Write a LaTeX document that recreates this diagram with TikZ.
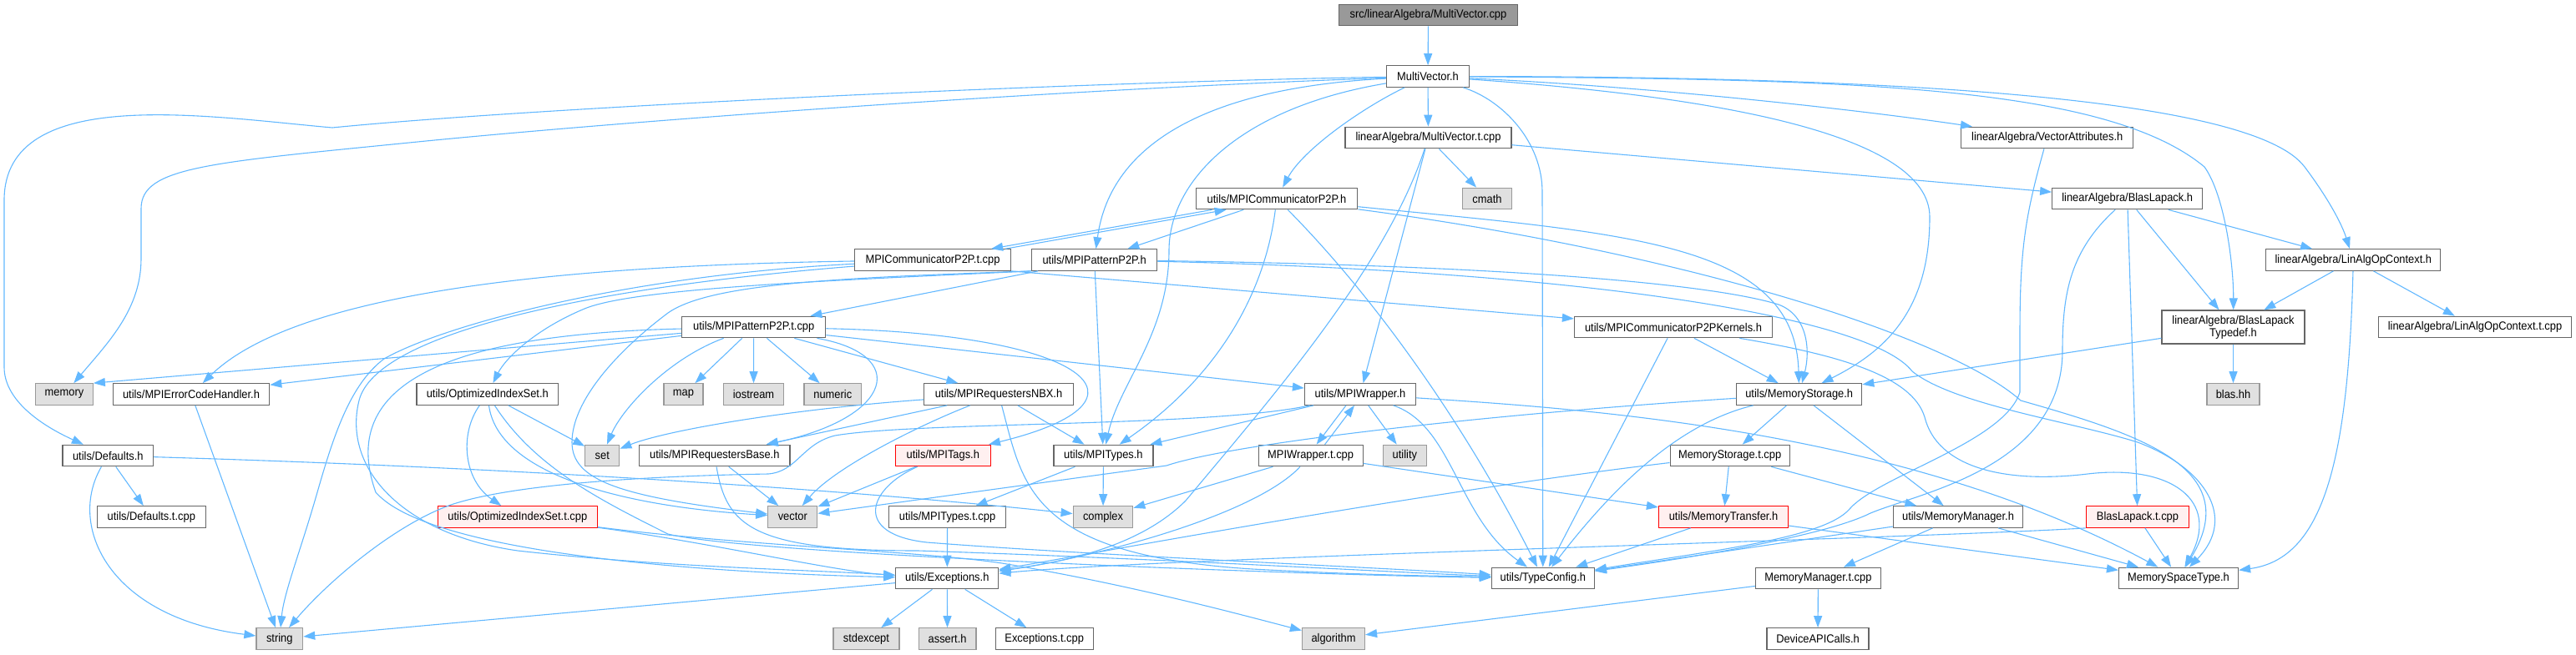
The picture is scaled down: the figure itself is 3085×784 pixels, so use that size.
\documentclass[tikz,border=0pt]{standalone}
\usepackage{fontspec}
\setmainfont{Liberation Sans}[FakeStretch=0.92]
\usetikzlibrary{arrows.meta,calc}
\definecolor{edgec}{RGB}{99,184,255}
\definecolor{bordc}{RGB}{102,102,102}
\definecolor{sysfill}{RGB}{224,224,224}
\definecolor{sysbord}{RGB}{153,153,153}
\definecolor{redfill}{RGB}{255,240,240}
\definecolor{srcfill}{RGB}{153,153,153}
\begin{document}
\begin{tikzpicture}[x=0.5pt,y=-0.5pt,
  nd/.style={draw=bordc, fill=white, line width=0.6pt, minimum height=12.75pt, inner sep=0pt, font=\fontsize{7}{7.6}\selectfont, text=black},
  sys/.style={nd, draw=sysbord, fill=sysfill},
  hot/.style={nd, draw=red, fill=redfill},
  srcnode/.style={nd, fill=srcfill},
  wd/.style={minimum width=#1*0.5pt},
  lnk/.style={draw=edgec, line width=0.55pt, -{Triangle[length=7pt,width=5pt]}}
]
\useasboundingbox (0,0) rectangle (3085,784);

% rows 0-5
\node[srcnode,wd=214] (src) at (1710.5,18) {src/linearAlgebra/MultiVector.cpp};
\node[nd,wd=99] (MV) at (1710,91.5) {MultiVector.h};
\node[nd,wd=199] (MVt) at (1710.5,165) {linearAlgebra/MultiVector.t.cpp};
\node[nd,wd=206] (VecAttr) at (2451.7,165) {linearAlgebra/VectorAttributes.h};
\node[sys,wd=59] (cmath) at (1781,238) {cmath};
\node[nd,wd=193.5] (MPICommH) at (1529,238) {utils/MPICommunicatorP2P.h};
\node[nd,wd=180] (BlasLapack) at (2547.7,238) {linearAlgebra/BlasLapack.h};
\node[nd,wd=187] (MPICommT) at (1117,311.5) {MPICommunicatorP2P.t.cpp};
\node[nd,wd=150] (MPIPatH) at (1310.7,311.5) {utils/MPIPatternP2P.h};
\node[nd,wd=209] (LinAlgCtx) at (2818.3,311.5) {linearAlgebra/LinAlgOpContext.h};
\node[nd,wd=172] (MPIPatT) at (902.7,392) {utils/MPIPatternP2P.t.cpp};
\node[nd,wd=237] (Kernels) at (2004,392) {utils/MPICommunicatorP2PKernels.h};
\node[nd,wd=171,minimum height=20pt,align=center] (BLTypedef) at (2674.5,392) {linearAlgebra/BlasLapack\\Typedef.h};
\node[nd,wd=231.5] (LinAlgCtxT) at (2964,392) {linearAlgebra/LinAlgOpContext.t.cpp};
% row 6
\node[sys,wd=68.6] (memory) at (77,472.5) {memory};
\node[nd,wd=187.5] (MPIErrH) at (229,472.5) {utils/MPIErrorCodeHandler.h};
\node[nd,wd=169.6] (OptIdxH) at (583.8,472.5) {utils/OptimizedIndexSet.h};
\node[sys,wd=47] (map) at (818.4,472.5) {map};
\node[sys,wd=72] (iostream) at (902.5,472.5) {iostream};
\node[sys,wd=68.6] (numeric) at (997.3,472.5) {numeric};
\node[nd,wd=178.6] (NBX) at (1196,472.5) {utils/MPIRequestersNBX.h};
\node[nd,wd=133] (MPIWrapper) at (1629,472.5) {utils/MPIWrapper.h};
\node[nd,wd=150] (MemStorage) at (2154.7,472.5) {utils/MemoryStorage.h};
\node[sys,wd=63] (blas) at (2674.5,472.5) {blas.hh};
% row 7
\node[nd,wd=108.5] (Defaults) at (129.3,546) {utils/Defaults.h};
\node[sys,wd=41] (set) at (721.3,546) {set};
\node[nd,wd=180.5] (ReqBase) at (855.8,546) {utils/MPIRequestersBase.h};
\node[hot,wd=114] (MPITags) at (1129.3,546) {utils/MPITags.h};
\node[nd,wd=119] (MPITypes) at (1321.4,546) {utils/MPITypes.h};
\node[nd,wd=125] (MPIWrapperT) at (1569.6,546) {MPIWrapper.t.cpp};
\node[sys,wd=52] (utility) at (1682.4,546) {utility};
\node[nd,wd=143] (MemStorageT) at (2071.6,546) {MemoryStorage.t.cpp};
% row 8
\node[nd,wd=130] (DefaultsT) at (181.3,619.5) {utils/Defaults.t.cpp};
\node[hot,wd=191] (OptIdxT) at (619.8,619.5) {utils/OptimizedIndexSet.t.cpp};
\node[sys,wd=59] (vector) at (949.3,619.5) {vector};
\node[nd,wd=140] (MPITypesT) at (1134.6,619.5) {utils/MPITypes.t.cpp};
\node[sys,wd=71.6] (complex) at (1321,619.5) {complex};
\node[hot,wd=155] (MemTransfer) at (2064,619.5) {utils/MemoryTransfer.h};
\node[nd,wd=155] (MemManager) at (2345,619.5) {utils/MemoryManager.h};
\node[hot,wd=123] (BlasLapackT) at (2560,619.5) {BlasLapack.t.cpp};
% row 9
\node[nd,wd=123] (Exceptions) at (1134.3,693) {utils/Exceptions.h};
\node[nd,wd=123] (TC) at (1847.8,693) {utils/TypeConfig.h};
\node[nd,wd=150] (MemManagerT) at (2177.4,693) {MemoryManager.t.cpp};
\node[nd,wd=143] (MemSpace) at (2609,693) {MemorySpaceType.h};
% row 10
\node[sys,wd=55.7] (string) at (334.8,765.5) {string};
\node[sys,wd=79] (stdexcept) at (1037.4,765.5) {stdexcept};
\node[sys,wd=68.6] (assert) at (1134.6,765.5) {assert.h};
\node[nd,wd=117] (ExceptionsT) at (1250.7,765.5) {Exceptions.t.cpp};
\node[sys,wd=75] (algorithm) at (1597,765.5) {algorithm};
\node[nd,wd=122] (DeviceAPI) at (2177,765.5) {DeviceAPICalls.h};

% ---- edges ----
\draw[lnk] (src) -- (MV);
\draw[lnk] (MV) -- (MVt);
\draw[lnk] (MVt) -- (cmath);
\draw[lnk] (MV) .. controls (1300,98) and (650,128) .. (398,153) .. controls (250,140) and (5,100) .. (5,240) -- (5,440) .. controls (5,480) and (50,510) .. (Defaults);
\draw[lnk] (MV) .. controls (1200,110) and (700,150) .. (500,170) .. controls (250,195) and (169,200) .. (169,250) -- (169,310) .. controls (169,370) and (130,410) .. (memory);
\draw[lnk] (MV) .. controls (1630,130) and (1560,180) .. (MPICommH);
\draw[lnk] (MV) .. controls (1450,105) and (1330,170) .. (MPIPatH);
\draw[lnk] (MV) .. controls (1480,130) and (1400,220) .. (1400,300) .. controls (1400,400) and (1340,460) .. (MPITypes);
\draw[lnk] (MV) .. controls (1800,120) and (1847,170) .. (1847,230) -- (TC);
\draw[lnk] (MV) .. controls (2000,105) and (2250,135) .. (VecAttr);
\draw[lnk] (MV) .. controls (2200,95) and (2520,100) .. (2640,200) .. controls (2665,235) and (2675,320) .. (BLTypedef);
\draw[lnk] (MV) .. controls (2300,92) and (2700,120) .. (2760,200) .. controls (2790,240) and (2805,270) .. (LinAlgCtx);
\draw[lnk] (MV) .. controls (2050,115) and (2311,160) .. (2311,260) .. controls (2311,370) and (2260,420) .. (MemStorage);

\draw[lnk] (MVt) -- (BlasLapack);
\draw[lnk] (MVt) -- (MPIWrapper);
\draw[lnk] (MVt) .. controls (1660,320) and (1520,480) .. (1420,600) .. controls (1360,660) and (1260,675) .. (Exceptions);

\draw[lnk] ($(MPICommH.south west)+(20,0)$) -- ($(MPICommT.north east)+(-24,0)$);
\draw[lnk] ($(MPICommT.north east)+(-7,0)$) -- ($(MPICommH.south west)+(37,0)$);
\draw[lnk] (MPICommH) -- (MPIPatH);
\draw[lnk] (MPICommH) .. controls (1515,350) and (1460,450) .. (MPITypes);
\draw[lnk] (MPICommH) .. controls (1640,350) and (1750,500) .. (TC);
\draw[lnk] (MPICommH) .. controls (1950,280) and (2150,290) .. (MemStorage);
\draw[lnk] (MPICommH) .. controls (2000,300) and (2330,400) .. (2420,480) .. controls (2560,520) and (2690,560) .. (MemSpace);

\draw[lnk] (MPICommT) .. controls (700,318) and (360,345) .. (MPIErrH);
\draw[lnk] (MPICommT) .. controls (750,330) and (530,390) .. (460,430) .. controls (420,460) and (400,520) .. (380,590) .. controls (360,660) and (340,710) .. (string);
\draw[lnk] (MPICommT) .. controls (700,345) and (450,400) .. (430,480) .. controls (410,560) and (480,640) .. (620,660) .. controls (800,680) and (950,682) .. (Exceptions);
\draw[lnk] (MPICommT.south east) -- (Kernels);

\draw[lnk] (MPIPatH) -- (MPIPatT);
\draw[lnk] (MPIPatH) -- (MPITypes);
\draw[lnk] (MPIPatH.south west) .. controls (1000,336) and (760,345) .. (700,370) .. controls (640,395) and (605,430) .. (OptIdxH);
\draw[lnk] (MPIPatH.south west) .. controls (1000,333) and (850,340) .. (800,375) .. controls (740,420) and (685,480) .. (685,530) .. controls (685,575) and (740,595) .. (vector);
\draw[lnk] (MPIPatH) .. controls (1800,318) and (2050,340) .. (2130,365) .. controls (2165,378) and (2168,420) .. (MemStorage);
\draw[lnk] (MPIPatH) .. controls (1900,325) and (2240,380) .. (2290,445) .. controls (2340,485) and (2480,505) .. (2560,530) .. controls (2640,560) and (2680,620) .. (MemSpace);

\draw[lnk] (MPIPatT) -- (memory.north east);
\draw[lnk] (MPIPatT) -- (MPIErrH);
\draw[lnk] (MPIPatT) .. controls (800,430) and (745,490) .. (set);
\draw[lnk] (MPIPatT) -- (map);
\draw[lnk] (MPIPatT) -- (iostream);
\draw[lnk] (MPIPatT) -- (numeric);
\draw[lnk] (MPIPatT) -- (NBX);
\draw[lnk] (MPIPatT) .. controls (1090,425) and (1070,500) .. (ReqBase);
\draw[lnk] (MPIPatT) .. controls (1300,400) and (1400,480) .. (MPITags);
\draw[lnk] (MPIPatT) -- (MPIWrapper);
\draw[lnk] (MPIPatT) .. controls (560,400) and (400,450) .. (450,590) .. controls (520,670) and (900,688) .. (Exceptions);

\draw[lnk] (VecAttr) .. controls (2425,260) and (2419,300) .. (2419,400) -- (2419,470) .. controls (2400,530) and (2250,570) .. (2215,610) .. controls (2185,645) and (2050,660) .. (TC);

\draw[lnk] (BlasLapack) -- (LinAlgCtx);
\draw[lnk] (BlasLapack) -- (BLTypedef);
\draw[lnk] (BlasLapack) -- (BlasLapackT);
\draw[lnk] (BlasLapack) .. controls (2480,300) and (2470,350) .. (2470,420) .. controls (2470,560) and (2300,590) .. (2240,615) .. controls (2190,640) and (2050,665) .. (TC);

\draw[lnk] (LinAlgCtx) -- (BLTypedef);
\draw[lnk] (LinAlgCtx) -- (LinAlgCtxT);
\draw[lnk] (LinAlgCtx) .. controls (2812,560) and (2780,670) .. (MemSpace);

\draw[lnk] (BLTypedef) -- (blas);
\draw[lnk] (BLTypedef) -- (MemStorage);

\draw[lnk] (Kernels) -- (MemStorage);
\draw[lnk] (Kernels) -- (TC);
\draw[lnk] (Kernels) .. controls (2200,425) and (2290,450) .. (2305,500) .. controls (2320,560) and (2400,580) .. (2500,568) .. controls (2600,556) and (2660,600) .. (MemSpace);

\draw[lnk] (OptIdxH) .. controls (550,520) and (555,575) .. (OptIdxT);
\draw[lnk] (OptIdxH) -- (set);
\draw[lnk] (OptIdxH) .. controls (595,560) and (720,605) .. (vector);
\draw[lnk] (OptIdxH) .. controls (640,560) and (720,600) .. (800,640) .. controls (900,665) and (1600,690) .. (TC);

\draw[lnk] (OptIdxT) .. controls (850,650) and (1000,685) .. (Exceptions);
\draw[lnk] (OptIdxT) .. controls (900,655) and (1100,660) .. (1200,675) .. controls (1350,700) and (1480,735) .. (algorithm);

\draw[lnk] (Defaults) -- (DefaultsT);
\draw[lnk] (Defaults) .. controls (80,630) and (130,740) .. (string);
\draw[lnk] (Defaults) .. controls (600,560) and (1000,585) .. (complex);
\draw[lnk] (MPIErrH) -- (string);

\draw[lnk] (NBX) -- (ReqBase);
\draw[lnk] (NBX) .. controls (1100,510) and (1000,560) .. (vector);
\draw[lnk] (NBX) -- (MPITypes);
\draw[lnk] (NBX) .. controls (950,490) and (800,515) .. (set);
\draw[lnk] (NBX) .. controls (1225,580) and (1230,665) .. (1500,682) .. controls (1650,690) and (1720,690) .. (TC);

\draw[lnk] (ReqBase) -- (vector);
\draw[lnk] (ReqBase) .. controls (870,630) and (900,660) .. (1100,660) .. controls (1400,670) and (1650,685) .. (TC);

\draw[lnk] (MPITags) -- (vector);
\draw[lnk] (MPITags) .. controls (1040,585) and (1020,640) .. (1110,650) .. controls (1300,665) and (1650,680) .. (TC);

\draw[lnk] (MPITypes) -- (MPITypesT);
\draw[lnk] (MPITypes) -- (complex);
\draw[lnk] (MPITypesT) -- (Exceptions);

\draw[lnk] (MPIWrapper) -- (utility);
\draw[lnk] ($(MPIWrapper.south)+(-17,0)$) -- ($(MPIWrapperT.north)+(7,0)$);
\draw[lnk] ($(MPIWrapperT.north)+(17,0)$) -- ($(MPIWrapper.south)+(-7,0)$);
\draw[lnk] (MPIWrapper) .. controls (1740,510) and (1745,620) .. (TC);
\draw[lnk] (MPIWrapper) -- (MPITypes);
\draw[lnk] (MPIWrapper) .. controls (1450,512) and (1100,505) .. (1000,522) .. controls (960,532) and (955,565) .. (920,568) .. controls (800,570) and (620,578) .. (540,605) .. controls (470,630) and (390,700) .. (string);
\draw[lnk] (MPIWrapper) .. controls (1900,490) and (2280,515) .. (MemSpace);

\draw[lnk] (MPIWrapperT) -- (MemTransfer);
\draw[lnk] (MPIWrapperT) -- (complex);
\draw[lnk] (MPIWrapperT) .. controls (1500,620) and (1300,670) .. (Exceptions);

\draw[lnk] (MemStorage) -- (MemStorageT);
\draw[lnk] (MemStorage) -- (MemManager);
\draw[lnk] (MemStorage) .. controls (2000,510) and (1920,600) .. (TC);
\draw[lnk] (MemStorage) .. controls (1800,495) and (1480,530) .. (1397,558) -- (vector);

\draw[lnk] (MemStorageT) -- (MemTransfer);
\draw[lnk] (MemStorageT) -- (MemManager);
\draw[lnk] (MemStorageT) .. controls (1700,590) and (1300,665) .. (Exceptions);

\draw[lnk] (MemTransfer) -- (TC);
\draw[lnk] (MemTransfer) -- (MemSpace);
\draw[lnk] (MemManager) -- (MemManagerT);
\draw[lnk] (MemManager) -- (MemSpace);
\draw[lnk] (MemManager) -- (TC);
\draw[lnk] (MemManagerT) -- (algorithm);
\draw[lnk] (MemManagerT) -- (DeviceAPI);
\draw[lnk] (BlasLapackT) -- (MemSpace);
\draw[lnk] (BlasLapackT.south west) .. controls (2300,645) and (1400,668) .. (Exceptions);

\draw[lnk] (Exceptions) -- (string);
\draw[lnk] (Exceptions) -- (stdexcept);
\draw[lnk] (Exceptions) -- (assert);
\draw[lnk] (Exceptions) -- (ExceptionsT);
\end{tikzpicture}
\end{document}
